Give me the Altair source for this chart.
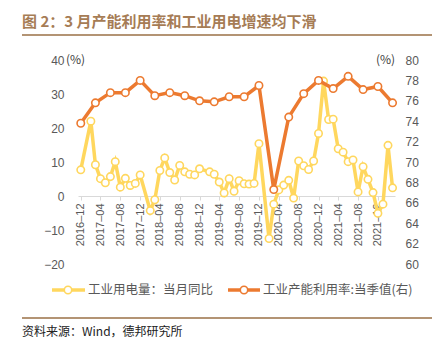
import altair as alt
import pandas as pd

# ---- data ----
elec_months = [
    "2016-12", "2017-02", "2017-03", "2017-04", "2017-05", "2017-06", "2017-07", "2017-08",
    "2017-09", "2017-10", "2017-11", "2017-12", "2018-02", "2018-03", "2018-04", "2018-05",
    "2018-06", "2018-07", "2018-08", "2018-09", "2018-10", "2018-11", "2018-12", "2019-02",
    "2019-03", "2019-04", "2019-05", "2019-06", "2019-07", "2019-08", "2019-09", "2019-10",
    "2019-11", "2019-12", "2020-02", "2020-03", "2020-04", "2020-05", "2020-06", "2020-07",
    "2020-08", "2020-09", "2020-10", "2020-11", "2020-12", "2021-01", "2021-02", "2021-03",
    "2021-04", "2021-05", "2021-06", "2021-07", "2021-08", "2021-09", "2021-10", "2021-11",
    "2021-12", "2022-01", "2022-02", "2022-03",
]
elec_yoy = [
    7.7, 22.0, 9.2, 5.1, 3.9, 5.7, 10.1, 2.6,
    5.2, 3.1, 3.7, 6.2, -4.3, -1.1, 7.5, 11.2,
    6.9, 4.7, 9.0, 7.1, 6.4, 6.2, 8.0, 7.1,
    6.4, 4.1, 0.9, 5.1, 1.4, 4.5, 3.6, 3.5,
    3.7, 15.4, -12.5, -2.4, 1.8, 3.2, 4.6, -0.6,
    10.3, 8.9, 7.8, 10.3, 18.4, 33.8, 22.5, 22.6,
    13.9, 12.9, 10.1, 10.6, 1.2, 8.6, 4.9, 1.0,
    -5.1, -2.4, 14.9, 2.4,
]

cap_quarters = [
    "2016-12", "2017-03", "2017-06", "2017-09", "2017-12", "2018-03", "2018-06", "2018-09",
    "2018-12", "2019-03", "2019-06", "2019-09", "2019-12", "2020-03", "2020-06", "2020-09",
    "2020-12", "2021-03", "2021-06", "2021-09", "2021-12", "2022-03",
]
cap_util = [
    73.8, 75.8, 76.8, 76.8, 78.0, 76.5, 76.8, 76.5,
    76.0, 75.9, 76.4, 76.4, 77.5, 67.3, 74.4, 76.7,
    78.0, 77.2, 78.4, 77.1, 77.4, 75.8,
]

tick_months = [(2016, 12)] + [(y, m) for y in range(2017, 2022) for m in (4, 8, 12)]

title_text = "图 2：3 月产能利用率和工业用电增速均下滑"
legend_elec = "工业用电量：当月同比"
legend_cap = "工业产能利用率:当季值(右)"
source_text = "资料来源：Wind，德邦研究所"

YELLOW = "#FFD75E"
ORANGE = "#EC7A30"
GRAY = "#595959"
BROWN = "#A67C55"
CJK = "Noto Sans CJK SC"
NUM = "Liberation Sans"

elec_df = pd.DataFrame({"date": [m + "-01" for m in elec_months], "v": elec_yoy})
cap_df = pd.DataFrame({"date": [m + "-01" for m in cap_quarters], "v": cap_util})
one = pd.DataFrame({"a": [0]})

W, H = 317, 204

xscale = alt.Scale(
    type="utc",
    domain=[alt.DateTime(year=2016, month=11, date=14, utc=True),
            alt.DateTime(year=2022, month=3, date=16, utc=True)],
)
xaxis = alt.Axis(
    values=[alt.DateTime(year=y, month=m, date=1, utc=True) for y, m in tick_months],
    format="%Y–%m",
    labelAngle=270,
    labelFontSize=11,
    labelFont=NUM,
    labelColor=GRAY,
    labelPadding=3,
    domainColor="#D9D9D9",
    tickColor="#D9D9D9",
    tickSize=4,
    grid=False,
    title=None,
    offset=-68,
    labelOverlap=False,
)

x_enc = alt.X("date:T", scale=xscale, axis=xaxis)

elec = alt.Chart(elec_df).mark_line(
    color=YELLOW, strokeWidth=3.5,
    point=alt.OverlayMarkDef(filled=True, fill="white", stroke=YELLOW, strokeWidth=1.6, size=55, opacity=1),
).encode(
    x=x_enc,
    y=alt.Y("v:Q", scale=alt.Scale(domain=[-20, 40], nice=False, zero=False),
            axis=alt.Axis(values=[-20, -10, 0, 10, 20, 30, 40], orient="left", domain=False,
                          ticks=False, grid=False, labelColor=GRAY, labelFontSize=12,
                          labelFont=NUM, labelPadding=14, title=None)),
)

cap = alt.Chart(cap_df).mark_line(
    color=ORANGE, strokeWidth=3.5,
    point=alt.OverlayMarkDef(filled=True, fill="white", stroke=ORANGE, strokeWidth=1.6, size=55, opacity=1),
).encode(
    x=x_enc,
    y=alt.Y("v:Q", scale=alt.Scale(domain=[60, 80], nice=False, zero=False),
            axis=alt.Axis(values=list(range(60, 81, 2)), orient="right", domain=False,
                          ticks=False, grid=False, labelColor=GRAY, labelFontSize=12,
                          labelFont=NUM, labelPadding=10, title=None)),
)


def text(t, x, y, size, color, font=CJK, weight="normal", align="left"):
    return alt.Chart(one).mark_text(
        align=align, baseline="middle", fontSize=size, color=color, font=font, fontWeight=weight
    ).encode(x=alt.value(x), y=alt.value(y), text=alt.value(t))


def hline(x1, x2, y, color, width):
    return alt.Chart(one).mark_rule(color=color, strokeWidth=width).encode(
        x=alt.value(x1), x2=alt.value(x2), y=alt.value(y))


def legend_point(x, y, color):
    return alt.Chart(one).mark_point(
        filled=True, fill="white", stroke=color, strokeWidth=1.6, size=55, opacity=1
    ).encode(x=alt.value(x), y=alt.value(y))


deco = [
    text(title_text, -56, -38, 15, BROWN, weight="bold"),
    hline(-56, 354, -25, "#B39474", 2),
    text("(%)", -12, 0, 12, "#404040", font=CJK),
    text("(%)", 298, 0, 12, "#404040", font=CJK),
    hline(-26, 7, 230, YELLOW, 3.5),
    legend_point(-10, 230, YELLOW),
    text(legend_elec, 10, 230, 12.5, GRAY),
    hline(150, 182, 230, ORANGE, 3.5),
    legend_point(166, 230, ORANGE),
    text(legend_cap, 185, 230, 12.5, GRAY),
    hline(-56, 354, 258, "#B39474", 2),
    text(source_text, -56, 272, 12, "#222222"),
]

chart = alt.layer(elec, cap, *deco).resolve_scale(y="independent").properties(
    width=W, height=H,
    autosize=alt.AutoSizeParams(type="none"),
    padding={"left": 78, "top": 60, "right": 44, "bottom": 74},
    background="white",
).configure_view(stroke=None)

chart.save("out.html", embed_options={"renderer": "svg", "actions": False})
